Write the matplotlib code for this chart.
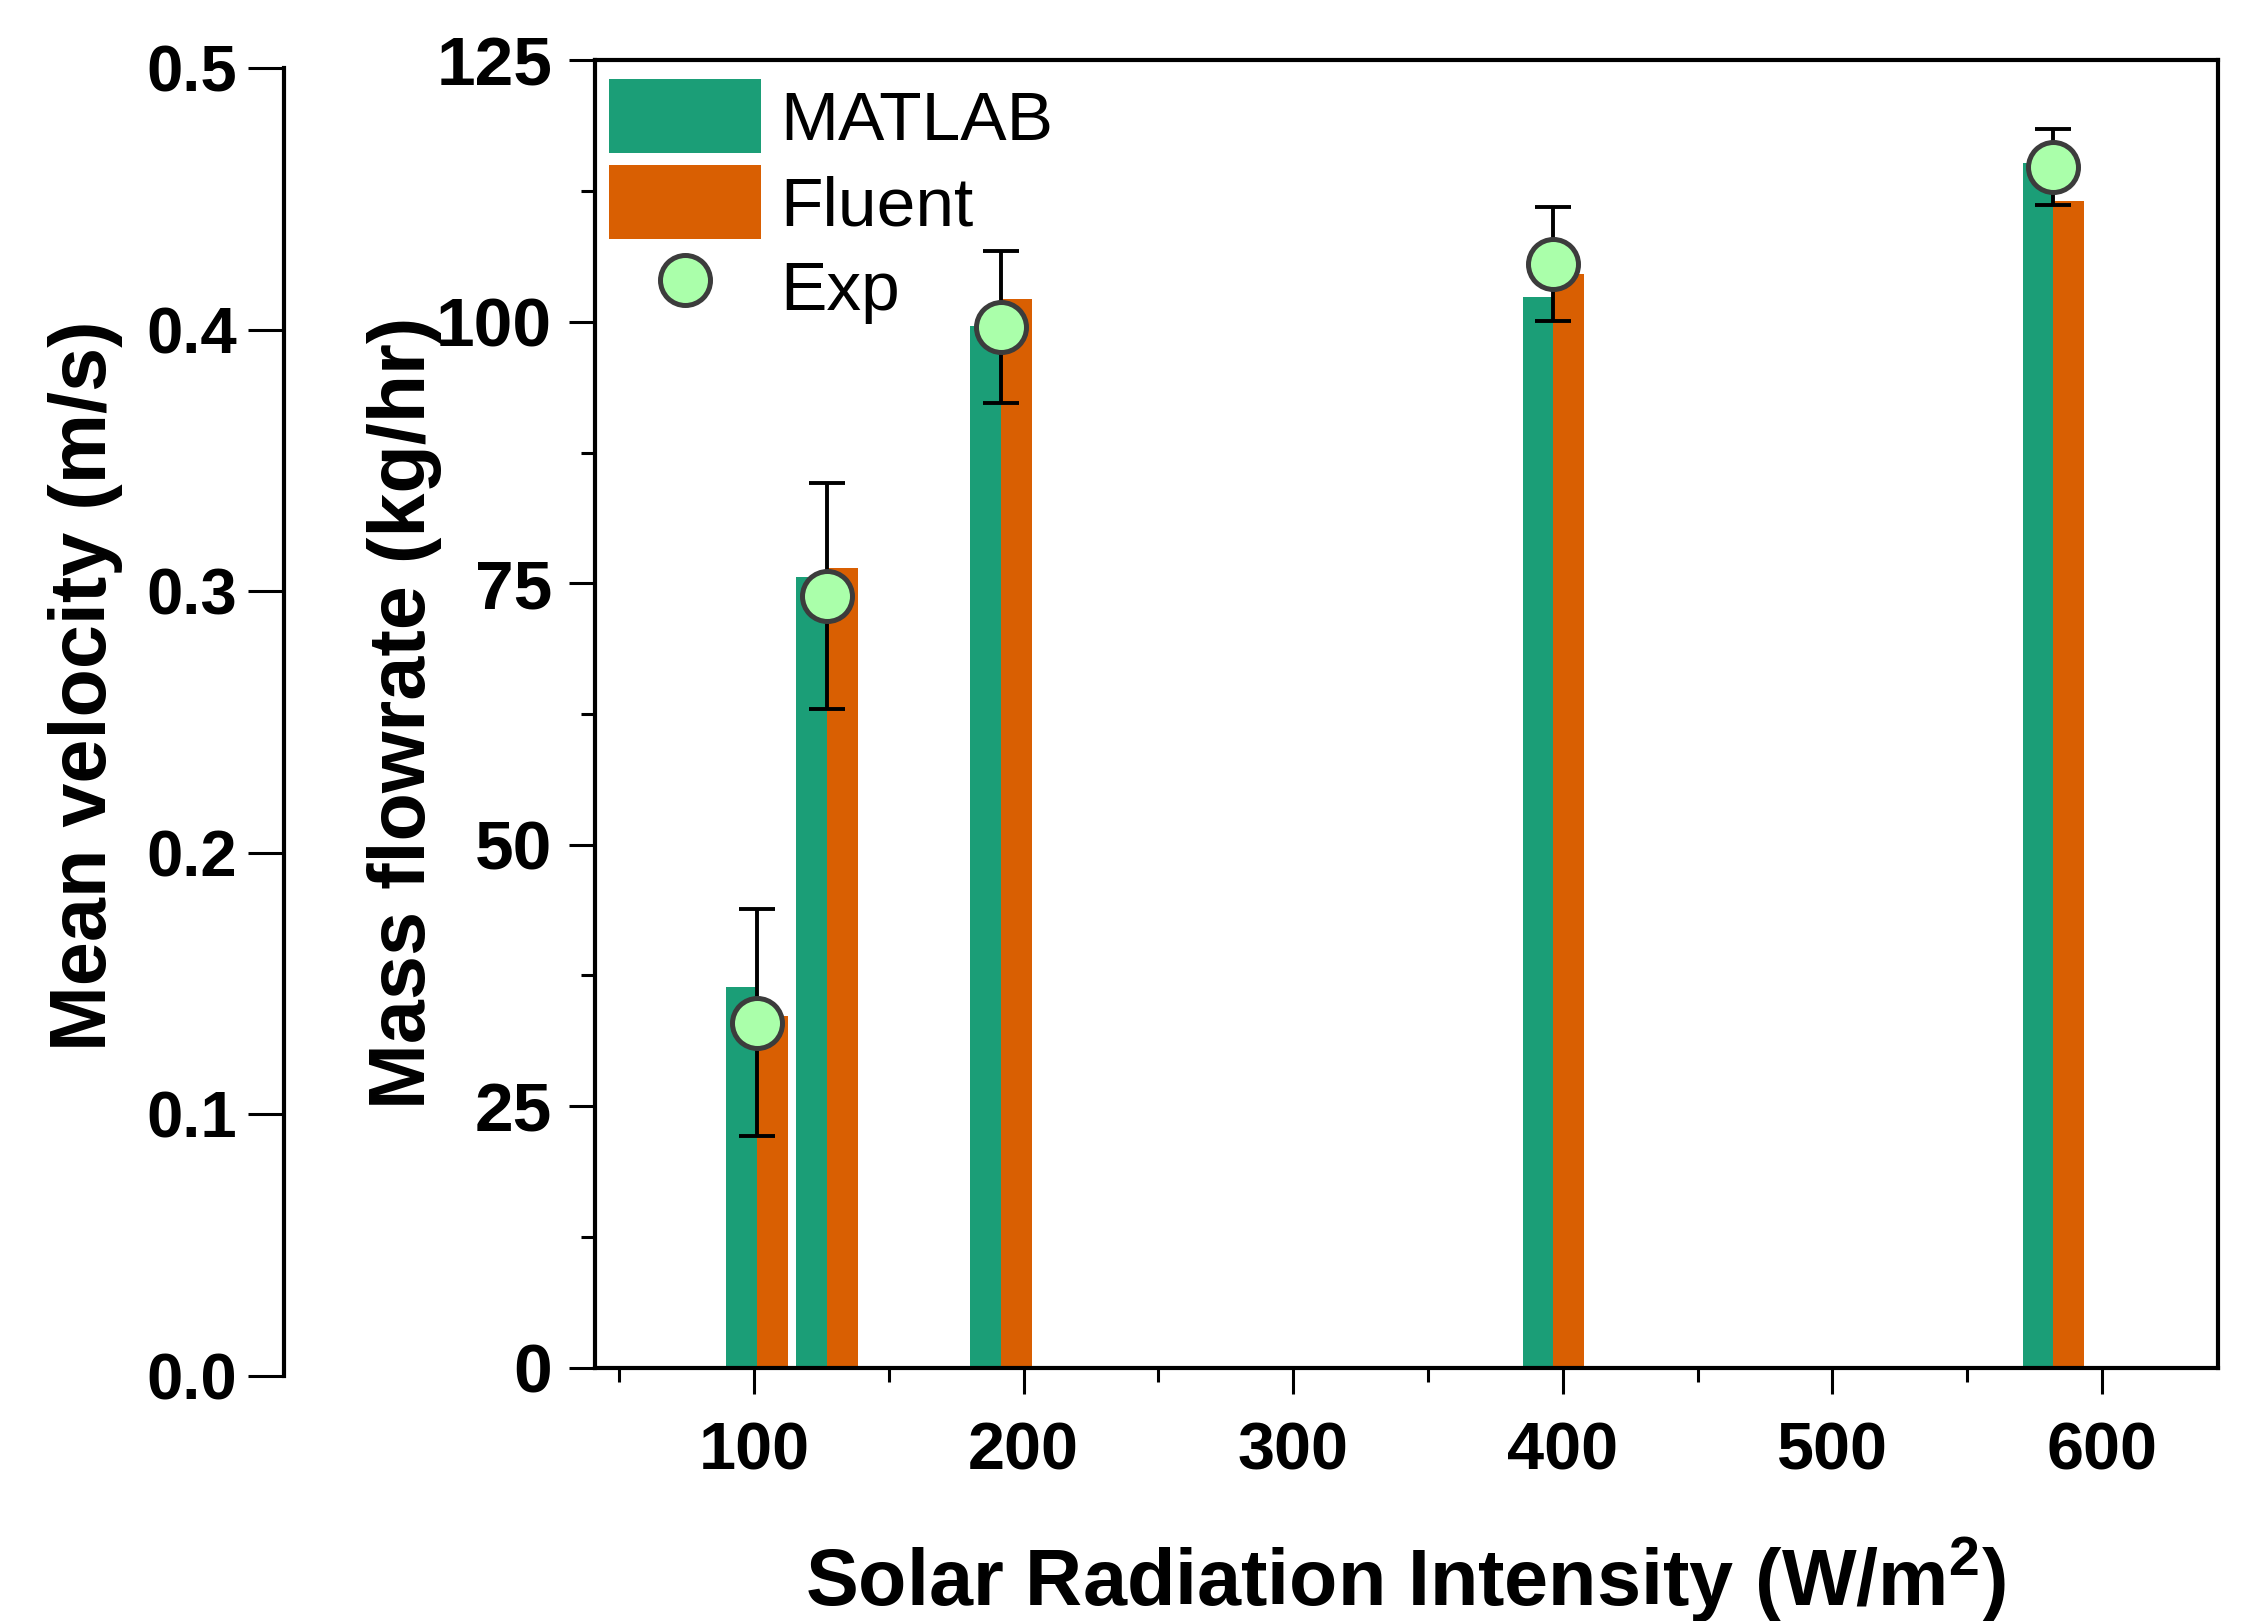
import numpy as np
import matplotlib
matplotlib.use("Agg")
import matplotlib.pyplot as plt
from matplotlib.ticker import MultipleLocator, FormatStrFormatter

# Данные
radiation = [101, 127, 191.5, 396.5, 582]          # W/m2
matlab_flow = [36.4, 75.6, 99.6, 102.4, 115.2]     # kg/hr
fluent_flow = [33.6, 76.5, 102.2, 104.6, 111.6]    # kg/hr
exp_flow = [33.0, 73.8, 99.5, 105.5, 114.8]        # kg/hr
exp_err = [10.85, 10.8, 7.25, 5.45, 3.6]

green = '#1b9e77'
orange = '#d95f02'
bar_w = 11.4

plt.rcParams['font.family'] = ['Liberation Sans', 'DejaVu Sans']
plt.rcParams['mathtext.fontset'] = 'custom'
plt.rcParams['mathtext.rm'] = 'Liberation Sans'
plt.rcParams['mathtext.bf'] = 'Liberation Sans:bold'

fig = plt.figure(figsize=(22.54, 16.21), dpi=100)

# основная ось
ax = fig.add_axes([0.2640, 0.1563, 0.7200, 0.8064])
b1 = ax.bar(radiation, matlab_flow, width=-bar_w, align='edge', color=green, label='MATLAB', zorder=1)
b2 = ax.bar(radiation, fluent_flow, width=bar_w, align='edge', color=orange, label='Fluent', zorder=1)
ax.errorbar(radiation, exp_flow, yerr=exp_err, fmt='none', ecolor='black',
            elinewidth=2.8, capsize=13, capthick=2.8, zorder=2)
pts, = ax.plot(radiation, exp_flow, 'o', ms=36, mfc='#aaffaa', mec='#3c3c3c', mew=3.6,
               label='Exp', zorder=3)

ax.set_xlim(41, 643)
ax.set_ylim(0, 125)
ax.xaxis.set_major_locator(MultipleLocator(100))
ax.xaxis.set_minor_locator(MultipleLocator(50))
ax.yaxis.set_major_locator(MultipleLocator(25))
ax.yaxis.set_minor_locator(MultipleLocator(12.5))
ax.tick_params(which='both', direction='out', top=False, right=False, width=2.2)
ax.tick_params(which='major', length=19)
ax.tick_params(which='minor', length=10)
ax.tick_params(axis='x', which='major', pad=20, labelsize=48)
ax.tick_params(axis='y', which='major', pad=12, labelsize=50)
for lab in ax.get_xticklabels() + ax.get_yticklabels():
    lab.set_fontweight('bold')
for sp in ax.spines.values():
    sp.set_linewidth(3)

leg = ax.legend(handles=[b1, b2, pts], loc='upper left', bbox_to_anchor=(0.0086, 0.9855),
                frameon=False, fontsize=50, borderpad=0, borderaxespad=0,
                handlelength=2.19, handleheight=1.26, handletextpad=0.28,
                labelspacing=0.16)

# ось скорости слева
ax2 = fig.add_axes([0.1260, 0.1514, 0.0001, 0.8066])
ax2.set_ylim(0, 0.5)
ax2.yaxis.set_major_locator(MultipleLocator(0.1))
ax2.yaxis.set_major_formatter(FormatStrFormatter('%.1f'))
ax2.set_xticks([])
for name in ['top', 'right', 'bottom']:
    ax2.spines[name].set_visible(False)
ax2.spines['left'].set_linewidth(3)
ax2.tick_params(axis='y', direction='out', length=26, width=2.2, pad=8, labelsize=47)
for lab in ax2.get_yticklabels():
    lab.set_fontweight('bold')
ax2.patch.set_visible(False)

# подписи осей
fig.text(0.6238, 0.0093, r'Solar Radiation Intensity (W/m$^\mathbf{2}$)', fontsize=57,
         fontweight='bold', ha='center', va='baseline')
fig.text(0.1886, 0.5602, 'Mass flowrate (kg/hr)', fontsize=57, fontweight='bold',
         rotation=90, rotation_mode='anchor', ha='center', va='baseline')
fig.text(0.0470, 0.5768, 'Mean velocity (m/s)', fontsize=57, fontweight='bold',
         rotation=90, rotation_mode='anchor', ha='center', va='baseline')

fig.savefig('out.png', dpi=100)
